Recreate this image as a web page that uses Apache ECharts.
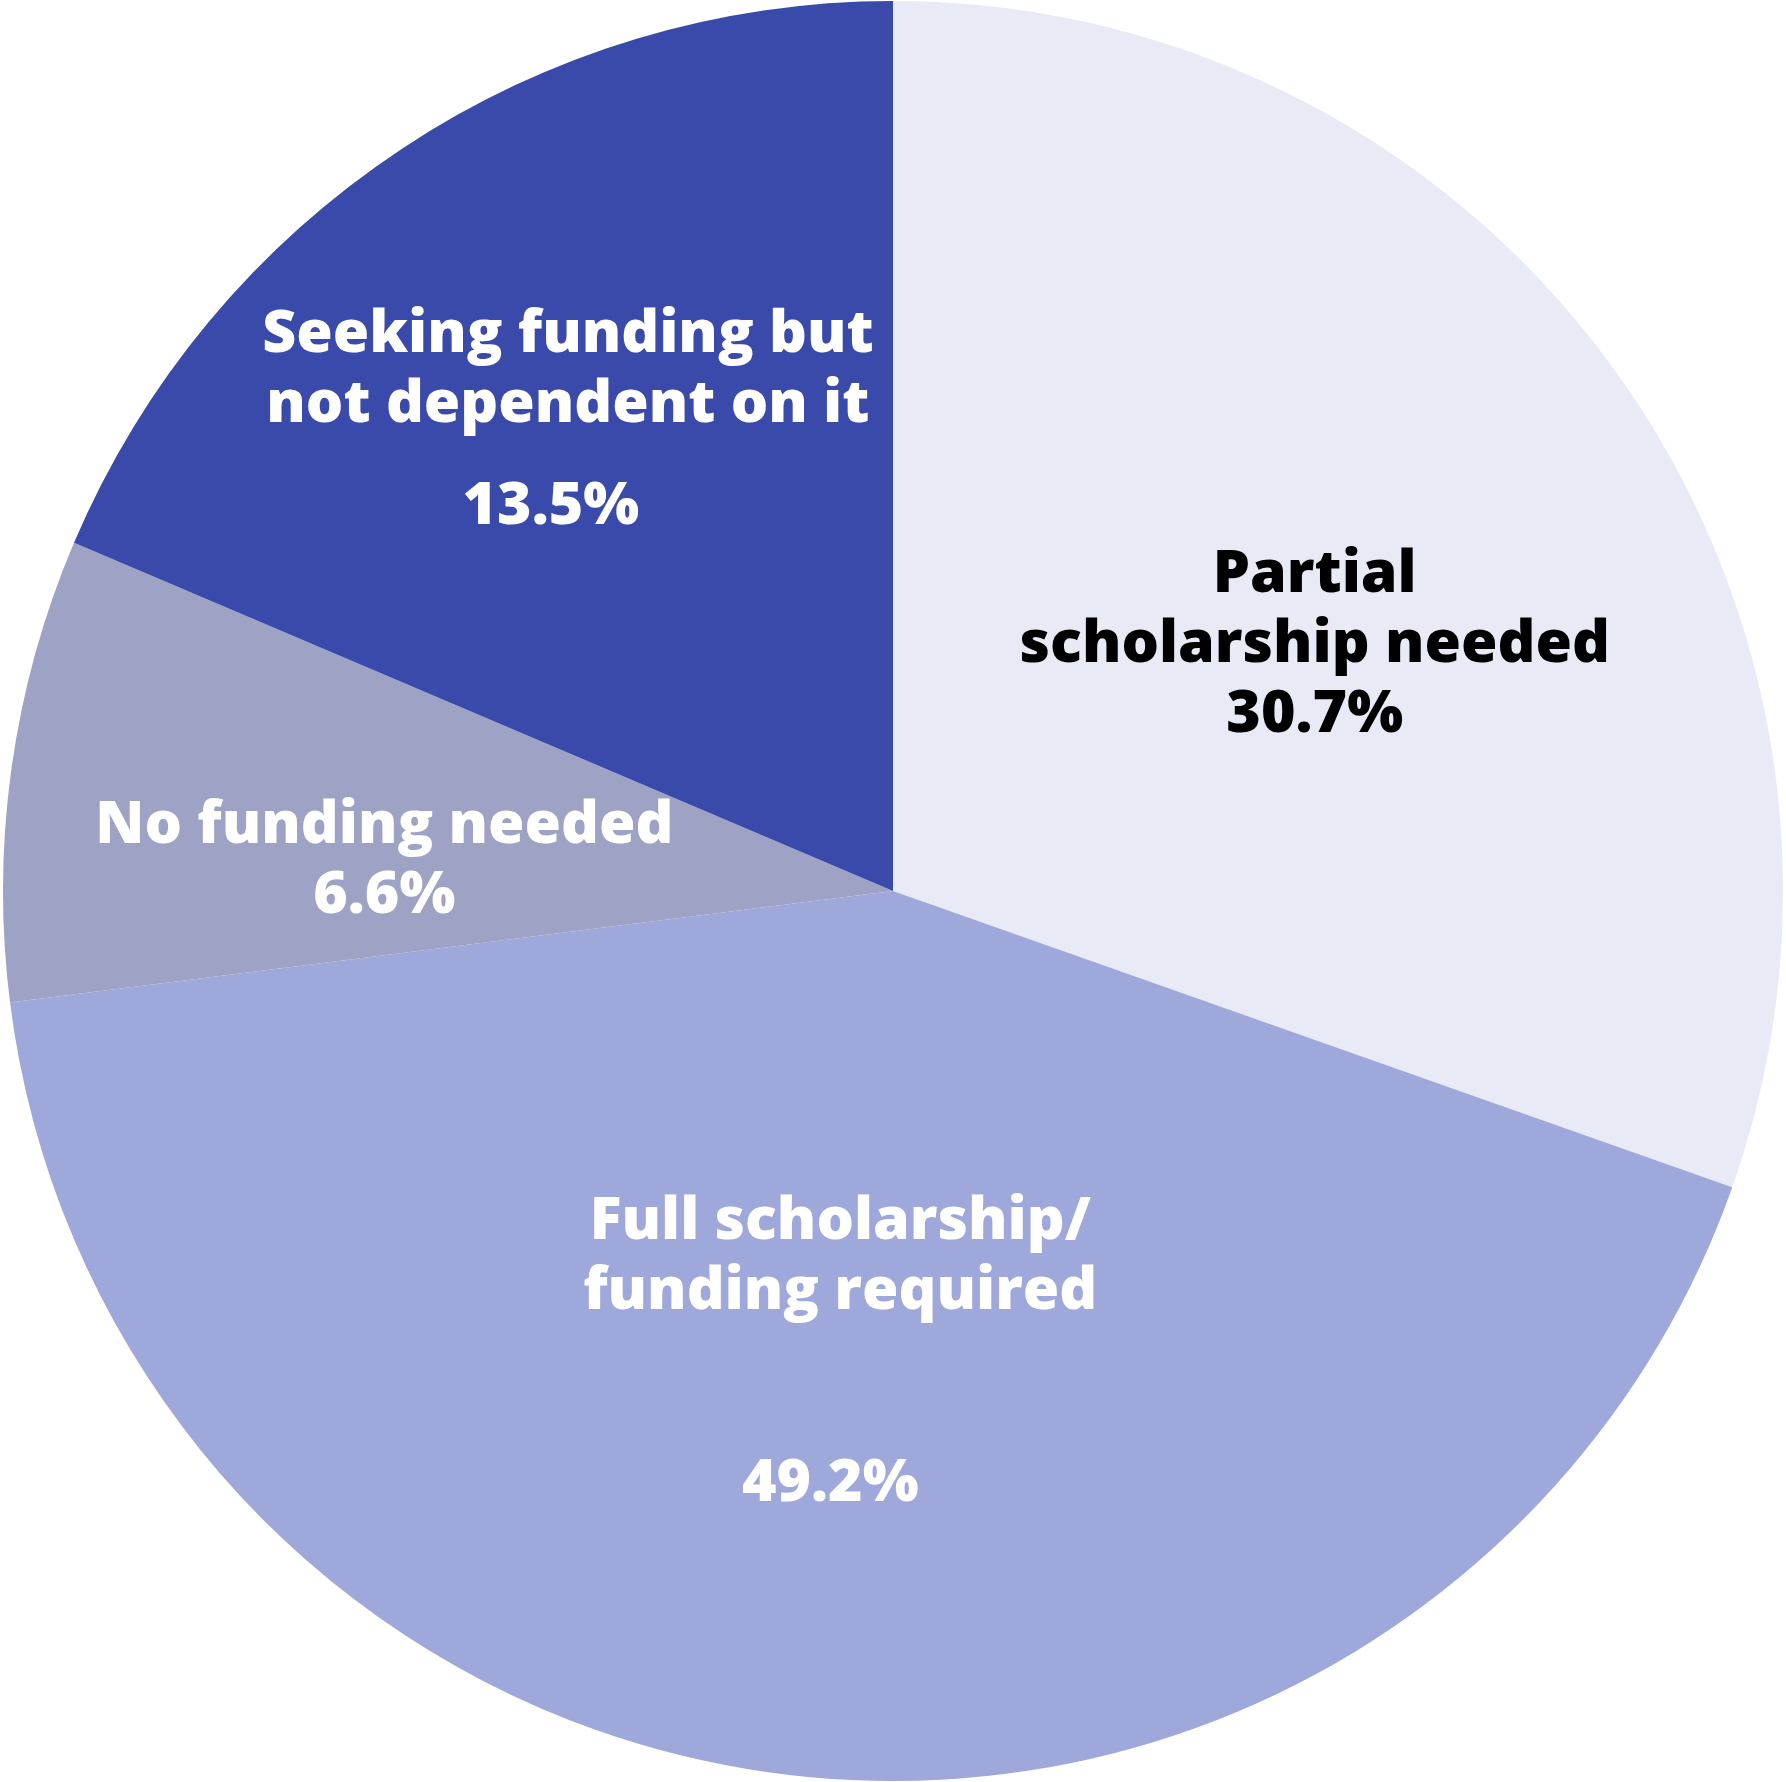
<!DOCTYPE html>
<html>
<head>
<meta charset="utf-8">
<script src="https://cdn.jsdelivr.net/npm/echarts@6/dist/echarts.min.js"></script>
<style>
html,body{margin:0;padding:0;background:#ffffff;}
#chart{width:1786px;height:1782px;}
</style>
</head>
<body>
<div id="chart"></div>
<script>
// Data
const categories = [
  'Partial scholarship needed',
  'Full scholarship/funding required',
  'No funding needed',
  'Seeking funding but not dependent on it'
];
const categoryLines = [
  ['Partial', 'scholarship needed'],
  ['Full scholarship/', 'funding required'],
  ['No funding needed'],
  ['Seeking funding but', 'not dependent on it']
];
// slice sizes as drawn in the picture (percent of the circle)
const sliceValues = [30.4, 42.6, 8.4, 18.6];
// percentages as printed on the labels
const shareLabels = ['30.7%', '49.2%', '6.6%', '13.5%'];

// Styles
const sliceColors = ['#e8eaf6', '#9fa8da', '#9ea2c4', '#3a4aab'];
const labelColors = ['#000000', '#ffffff', '#ffffff', '#ffffff'];
const nameLineHeights = [70, 70, 70, 70];
const pctLineHeights = [70, 314, 70, 134];
const pctPadRight = [0, 20, 0, 34];
const labelOffsets = [[56, 13], [-5, 78], [-65, 32], [-78, -80]];

const FONT = 'Open Sans';
const WEIGHT = 800;
const SIZE = 59;
const data = categories.map((name, i) => ({
  name: name,
  value: sliceValues[i],
  itemStyle: { color: sliceColors[i] },
  label: {
    offset: labelOffsets[i],
    rich: {
      n: { fontFamily: FONT, fontWeight: WEIGHT, fontSize: SIZE, lineHeight: nameLineHeights[i], color: labelColors[i], align: 'center' },
      p: { fontFamily: FONT, fontWeight: WEIGHT, fontSize: SIZE, lineHeight: pctLineHeights[i], color: labelColors[i], align: 'center', padding: [0, pctPadRight[i], 0, 0] }
    }
  }
}));

const chart = echarts.init(document.getElementById('chart'), null, { renderer: 'canvas' });
chart.setOption({
  animation: false,
  backgroundColor: '#ffffff',
  series: [{
    type: 'pie',
    center: [893, 891],
    radius: [0, 890],
    startAngle: 90,
    clockwise: true,
    avoidLabelOverlap: false,
    itemStyle: { borderWidth: 0 },
    emphasis: { disabled: true },
    labelLine: { show: false },
    label: {
      show: true,
      position: 'inside',
      fontFamily: FONT,
      fontWeight: WEIGHT,
      fontSize: SIZE,
      formatter: function (p) {
        const lines = categoryLines[p.dataIndex].map(l => '{n|' + l + '}');
        lines.push('{p|' + shareLabels[p.dataIndex] + '}');
        return lines.join('\n');
      }
    },
    data: data
  }]
});
</script>
</body>
</html>
